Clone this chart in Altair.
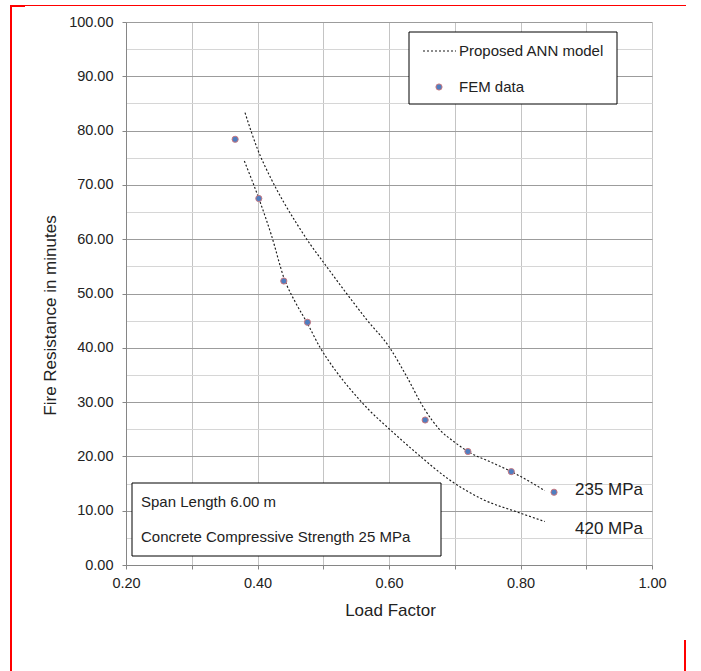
import altair as alt
import pandas as pd

# ---------------- data ----------------
fem_x = [0.366, 0.402, 0.440, 0.476, 0.655, 0.720, 0.786, 0.851]
fem_y = [78.4, 67.5, 52.3, 44.7, 26.7, 20.9, 17.2, 13.4]

ann235_x = [0.381, 0.400, 0.420, 0.440, 0.460, 0.480, 0.500, 0.533, 0.566,
            0.600, 0.627, 0.652, 0.678, 0.700, 0.720, 0.754, 0.786, 0.837]
ann235_y = [83.3, 76.6, 71.3, 66.8, 62.8, 59.1, 55.8, 50.4, 45.2,
            40.2, 34.7, 29.1, 24.8, 22.6, 20.9, 19.0, 17.2, 13.7]

ann420_x = [0.380, 0.402, 0.421, 0.441, 0.458, 0.475, 0.495, 0.520, 0.541,
            0.570, 0.600, 0.642, 0.693, 0.744, 0.794, 0.837]
ann420_y = [74.4, 67.5, 60.8, 52.6, 48.3, 44.7, 40.1, 35.6, 32.4,
            28.5, 25.1, 20.6, 15.6, 12.0, 9.8, 8.0]

series_labels = ["235 MPa", "420 MPa"]
legend_labels = ["Proposed ANN model", "FEM data"]
note_lines = ["Span Length 6.00 m", "Concrete Compressive Strength 25 MPa"]

x_ticks = [0.2, 0.3, 0.4, 0.5, 0.6, 0.7, 0.8, 0.9, 1.0]
y_ticks = [0, 5, 10, 15, 20, 25, 30, 35, 40, 45, 50, 55, 60, 65, 70, 75,
           80, 85, 90, 95, 100]

# ---------------- tables ----------------
fem = pd.DataFrame({"x": fem_x, "y": fem_y})
lines = pd.concat([
    pd.DataFrame({"x": ann235_x, "y": ann235_y, "s": series_labels[0]}),
    pd.DataFrame({"x": ann420_x, "y": ann420_y, "s": series_labels[1]}),
])
one = alt.Data(values=[{"k": 0}])

FONT = "Liberation Sans"
TXT = "#222222"
W, H = 526, 543
PAD = {"left": 126, "top": 22, "right": 49, "bottom": 106}
PT_FILL, PT_STROKE, PT_SIZE = "#4f7ec0", "#c87880", 38
LINE_COLOR, LINE_W = "#1a1a1a", 1.15

x_axis = alt.Axis(
    values=x_ticks,
    labelExpr="round(datum.value*10) % 2 == 0 ? format(datum.value, '.2f') : ''",
    labelOverlap=False, labelFlush=False, labelPadding=7, labelFontSize=14.5,
    labelColor=TXT,
    tickSize=4, tickColor="#868686", domainColor="#868686",
    grid=True, gridColor="#c4c4c4",
    title="Load Factor", titleFontSize=17, titleFontWeight="normal", titleColor=TXT,
    titleX=264, titleY=50, titleBaseline="alphabetic", titleAlign="center",
)
y_axis = alt.Axis(
    values=y_ticks,
    labelExpr="datum.value % 10 == 0 ? format(datum.value, '.2f') : ''",
    labelOverlap=False, labelFlush=False, labelPadding=9, labelFontSize=14.5,
    labelColor=TXT,
    tickSize=4,
    tickColor={"condition": {"test": "datum.value % 10 == 0", "value": "#868686"},
               "value": "rgba(0,0,0,0)"},
    domainColor="#868686",
    grid=True,
    gridColor={"condition": {"test": "datum.value % 10 == 0", "value": "#9c9c9c"},
               "value": "#d6d6d6"},
    title="Fire Resistance in minutes", titleFontSize=17, titleFontWeight="normal",
    titleColor=TXT, titleAngle=-90, titleX=-71, titleY=293,
    titleBaseline="alphabetic", titleAlign="center",
)
x_enc = alt.X("x:Q", scale=alt.Scale(domain=[0.2, 1.0], nice=False, zero=False), axis=x_axis)
y_enc = alt.Y("y:Q", scale=alt.Scale(domain=[0, 100], nice=False, zero=True), axis=y_axis)

line_layer = alt.Chart(lines).mark_line(
    interpolate="monotone", strokeDash=[2, 2], strokeWidth=LINE_W, color=LINE_COLOR
).encode(x=x_enc, y=y_enc, detail="s:N")

point_layer = alt.Chart(fem).mark_point(
    filled=True, shape="circle", size=PT_SIZE, fill=PT_FILL, stroke=PT_STROKE,
    strokeWidth=1, opacity=1
).encode(x=x_enc, y=y_enc)


def deco_text(s, x, y, size=15):
    return alt.Chart(one).mark_text(
        text=s, align="left", baseline="middle", fontSize=size, font=FONT, color=TXT
    ).encode(x=alt.value(x), y=alt.value(y))


def box(x0, x1, y0, y1):
    return alt.Chart(one).mark_rect(
        fill="white", stroke="black", strokeWidth=1
    ).encode(x=alt.value(x0), x2=alt.value(x1), y=alt.value(y0), y2=alt.value(y1))


def red(x0, x1, y0, y1, w):
    return alt.Chart(one).mark_rule(color="#ff0000", strokeWidth=w).encode(
        x=alt.value(x0), x2=alt.value(x1), y=alt.value(y0), y2=alt.value(y1))


# legend (pixel layout)
legend_box = box(283, 491, 10, 82)
legend_line = alt.Chart(one).mark_rule(
    strokeDash=[2, 2], strokeWidth=LINE_W, color=LINE_COLOR
).encode(x=alt.value(297), x2=alt.value(330), y=alt.value(29))
legend_point = alt.Chart(one).mark_point(
    filled=True, shape="circle", size=PT_SIZE, fill=PT_FILL, stroke=PT_STROKE,
    strokeWidth=1, opacity=1
).encode(x=alt.value(313), y=alt.value(65))
legend_t1 = deco_text(legend_labels[0], 333, 29)
legend_t2 = deco_text(legend_labels[1], 333, 65)

note_box = box(6, 315, 461, 534)
note_t1 = deco_text(note_lines[0], 15, 480)
note_t2 = deco_text(note_lines[1], 15, 515)

lab235 = deco_text(series_labels[0], 449, 468, 17)
lab420 = deco_text(series_labels[1], 449, 507, 17)

red_left = red(-115, -115, -17, 649, 2)
red_top = red(-116, 560, -16.5, -16.5, 1)
red_top_thick = red(-116, -101, -16, -16, 2)
red_right = red(559, 559, 618, 649, 2)

chart = alt.layer(
    line_layer, point_layer,
    legend_box, legend_line, legend_point, legend_t1, legend_t2,
    note_box, note_t1, note_t2, lab235, lab420,
    red_left, red_top, red_top_thick, red_right,
).properties(
    width=W, height=H, padding=PAD, autosize=alt.AutoSizeParams(type="none"),
    background="white",
).configure_view(stroke=None).configure_axis(
    labelFont=FONT, titleFont=FONT
)

chart.save("out.html", embed_options={"renderer": "svg", "actions": False})
